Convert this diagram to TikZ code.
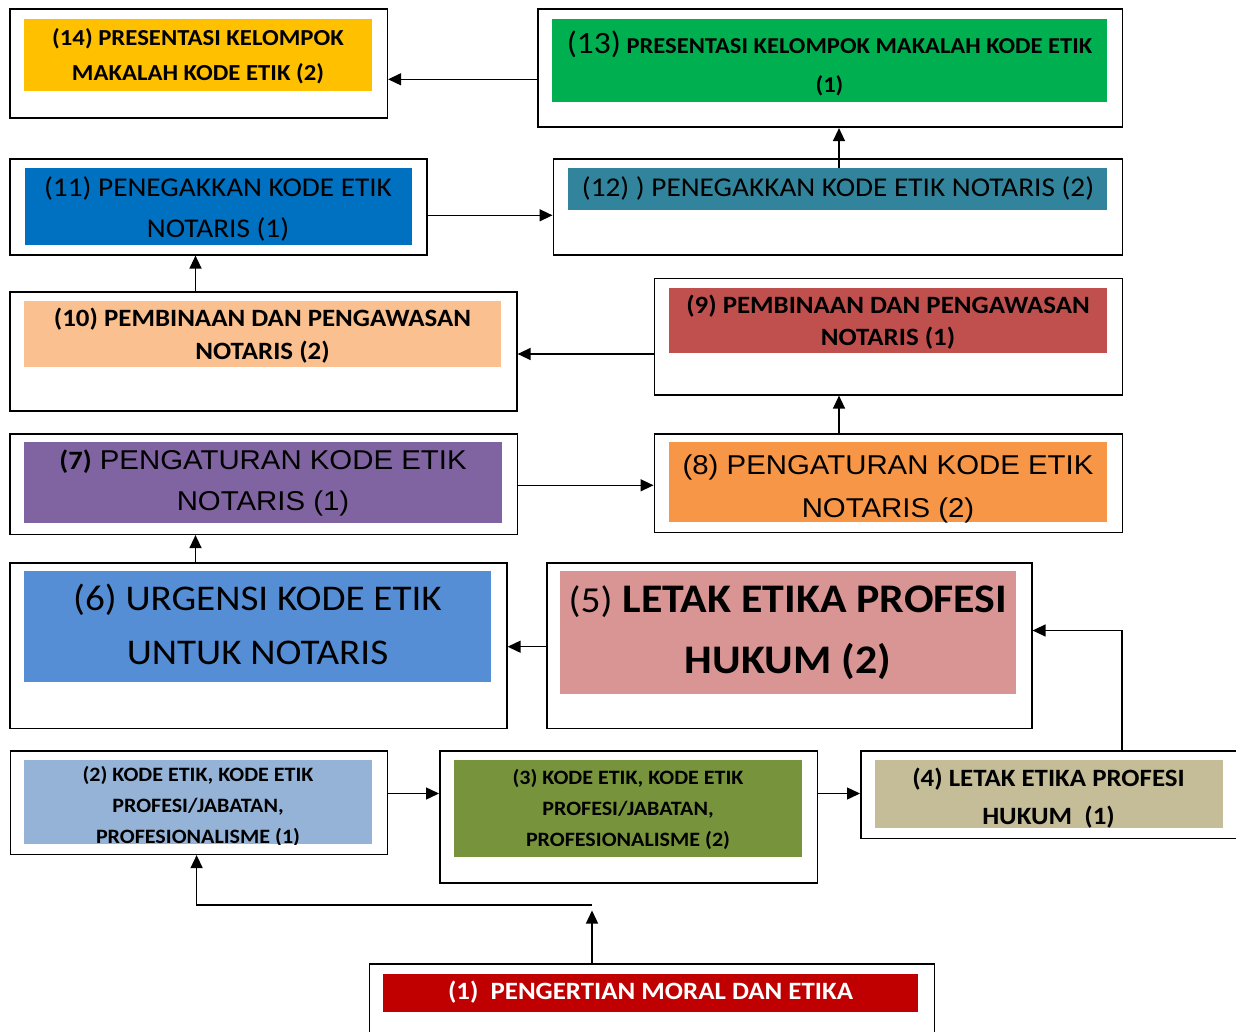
\documentclass[tikz,border=0pt]{standalone}
\usepackage{fontspec}
\setmainfont{Carlito}[FakeStretch=1.08]
\newfontfamily\arialf{Liberation Sans}[FakeStretch=1.08]
\usetikzlibrary{arrows.meta}
\definecolor{c14}{HTML}{FFC000}
\definecolor{c13}{HTML}{00B050}
\definecolor{c11}{HTML}{0070C0}
\definecolor{c12}{HTML}{31849B}
\definecolor{c10}{HTML}{FAC090}
\definecolor{c9}{HTML}{C0504D}
\definecolor{c7}{HTML}{8064A2}
\definecolor{c8}{HTML}{F79646}
\definecolor{c6}{HTML}{558ED5}
\definecolor{c5}{HTML}{D99594}
\definecolor{c2}{HTML}{95B3D7}
\definecolor{c3}{HTML}{77933C}
\definecolor{c4}{HTML}{C4BD97}
\definecolor{c1}{HTML}{C00000}
\newcommand\fsz[2]{\fontsize{#1pt}{#2pt}\selectfont}
\tikzset{
  obox/.style={draw=black, line width=1.6pt, fill=white, inner sep=0pt, anchor=north west},
  fbox/.style={fill=#1, draw=none, inner sep=0pt, anchor=north west},
  arr/.style={line width=1.4pt, -{Triangle[length=13pt,width=12pt]}},
  txt/.style={align=center, inner sep=0pt, anchor=center, text=black},
}
\begin{document}
\begin{tikzpicture}[x=1pt,y=-1pt]
\useasboundingbox (0,0) rectangle (1236,1032);
\fill[white] (0,0) rectangle (1236,1032);

% outer boxes
\node[obox, minimum width=377.5pt, minimum height=108.5pt] (b14) at (9,8.5) {};
\node[obox, minimum width=584.5pt, minimum height=118pt] (b13) at (537,8.5) {};
\node[obox, minimum width=417pt, minimum height=96pt] (b11) at (9,158) {};
\node[obox, minimum width=569pt, minimum height=96.5pt] (b12) at (552.5,158) {};
\node[obox, minimum width=507pt, minimum height=119pt] (b10) at (9,291) {};
\node[obox, minimum width=468pt, minimum height=116.5pt] (b9) at (653.5,277.5) {};
\node[obox, minimum width=507.5pt, minimum height=100.5pt] (b7) at (9,433) {};
\node[obox, minimum width=468pt, minimum height=98.5pt] (b8) at (653.5,433) {};
\node[obox, minimum width=497pt, minimum height=165.5pt] (b6) at (9,562) {};
\node[obox, minimum width=485pt, minimum height=165.5pt] (b5) at (546,562) {};
\node[obox, minimum width=377pt, minimum height=103.5pt] (b2) at (9.5,750) {};
\node[obox, minimum width=377.5pt, minimum height=132pt] (b3) at (439,750) {};
\node[obox, minimum width=400pt, minimum height=87.5pt] (b4) at (860,750) {};
\node[obox, minimum width=565pt, minimum height=100pt] (b1) at (368.5,963) {};

% coloured fills
\node[fbox=c14, minimum width=348pt, minimum height=72pt] (f14) at (24,19) {};
\node[fbox=c13, minimum width=555pt, minimum height=82.5pt] (f13) at (552,19) {};
\node[fbox=c11, minimum width=387.5pt, minimum height=76.5pt] (f11) at (24.5,168) {};
\node[fbox=c12, minimum width=539pt, minimum height=41.5pt] (f12) at (568,168) {};
\node[fbox=c10, minimum width=477pt, minimum height=65.5pt] (f10) at (24,301) {};
\node[fbox=c9, minimum width=438pt, minimum height=64.5pt] (f9) at (669,288) {};
\node[fbox=c7, minimum width=478pt, minimum height=80.5pt] (f7) at (24,442) {};
\node[fbox=c8, minimum width=438pt, minimum height=79.5pt] (f8) at (669,442) {};
\node[fbox=c6, minimum width=467pt, minimum height=110.5pt] (f6) at (24,571) {};
\node[fbox=c5, minimum width=456pt, minimum height=123pt] (f5) at (560,571) {};
\node[fbox=c2, minimum width=348pt, minimum height=84pt] (f2) at (24,760) {};
\node[fbox=c3, minimum width=348pt, minimum height=96.5pt] (f3) at (454,760) {};
\node[fbox=c4, minimum width=347.5pt, minimum height=67.5pt] (f4) at (875,760) {};
\node[fbox=c1, minimum width=535pt, minimum height=37.5pt] (f1) at (383,974) {};

% texts
\node[txt, font={\fsz{22.9}{34.5}\bfseries}] (t14) at (198,56) {(14) PRESENTASI KELOMPOK\\MAKALAH KODE ETIK (2)};
\node[txt, font={\fsz{22.7}{39}\bfseries}] (t13) at (829.5,63) {{\fontsize{31pt}{39pt}\selectfont\mdseries (13)} PRESENTASI KELOMPOK MAKALAH KODE ETIK\\(1)};
\node[txt, font={\fsz{27.1}{40.8}}] (t11) at (218,209) {(11) PENEGAKKAN KODE ETIK\\NOTARIS (1)};
\node[txt, font={\fsz{27.1}{34}}] (t12) at (838,188.5) {(12) ) PENEGAKKAN KODE ETIK NOTARIS (2)};
\node[txt, font={\fsz{24.9}{32.5}\bfseries}] (t10) at (262.5,335.5) {(10) PEMBINAAN DAN PENGAWASAN\\NOTARIS (2)};
\node[txt, font={\fsz{24.9}{32}\bfseries}] (t9) at (888,322.4) {(9) PEMBINAAN DAN PENGAWASAN\\NOTARIS (1)};
\node[txt, font={\arialf\fsz{27.2}{40.5}}] (t7) at (263,483) {{\normalfont\fontsize{26.5pt}{40.5pt}\selectfont\bfseries (7)} PENGATURAN KODE ETIK\\NOTARIS (1)};
\node[txt, font={\arialf\fsz{27.2}{43}}] (t8) at (888,488.7) {(8) PENGATURAN KODE ETIK\\NOTARIS (2)};
\node[txt, font={\fsz{36.2}{54}}] (t6) at (257.5,624.4) {(6) URGENSI KODE ETIK\\UNTUK NOTARIS};
\node[txt, font={\fsz{40.6}{61}\bfseries}] (t5) at (788,633) {{\fontsize{36.6pt}{61pt}\selectfont\mdseries (5)} LETAK ETIKA PROFESI\\HUKUM (2)};
\begin{scope}
\clip (f2.north west) rectangle (f2.south east);
\node[txt, font={\fsz{20.4}{31}\bfseries}] (t2) at (198,806.5) {(2) KODE ETIK, KODE ETIK\\PROFESI/JABATAN,\\PROFESIONALISME (1)};
\end{scope}
\node[txt, font={\fsz{20.4}{31}\bfseries}] (t3) at (628,809) {(3) KODE ETIK, KODE ETIK\\PROFESI/JABATAN,\\PROFESIONALISME (2)};
\node[txt, font={\fsz{24.9}{37.6}\bfseries}] (t4) at (1048.5,798) {(4) LETAK ETIKA PROFESI\\HUKUM\ \ (1)};
\node[txt, text=white, font={\fsz{24.9}{30}\bfseries}] (t1) at (650.5,992.5) {(1)\ \ PENGERTIAN MORAL DAN ETIKA};

% helper coordinates
\coordinate (y79) at (0,79.3);
\coordinate (y215) at (0,215.3);
\coordinate (x839) at (839,0);
\coordinate (x195) at (195.5,0);
\coordinate (y354) at (0,354);
\coordinate (y485) at (0,485.3);
\coordinate (y647) at (0,646.7);
\coordinate (x1122) at (1122,0);
\coordinate (y630) at (0,630.5);
\coordinate (y793) at (0,793.5);
\coordinate (j1) at (592,905);
\coordinate (tip1) at (592,910.5);
\coordinate (x197) at (196.6,0);

% connectors
\draw[arr] (b13.west |- y79) -- (b14.east |- y79);
\draw[arr] (b11.east |- y215) -- (b12.west |- y215);
\draw[arr] (f12.north -| x839) -- (b13.south -| x839);
\draw[arr] (b10.north -| x195) -- (b11.south -| x195);
\draw[arr] (b9.west |- y354) -- (b10.east |- y354);
\draw[arr] (b7.east |- y485) -- (b8.west |- y485);
\draw[arr] (b8.north -| x839) -- (b9.south -| x839);
\draw[arr] (b6.north -| x195) -- (b7.south -| x195);
\draw[arr] (b5.west |- y647) -- (b6.east |- y647);
\draw[arr] (b4.north -| x1122) |- (b5.east |- y630);
\draw[arr] (b3.east |- y793) -- (b4.west |- y793);
\draw[arr] (b2.east |- y793) -- (b3.west |- y793);
\draw[arr] (b1.north -| j1) -- (tip1);
\draw[arr] (j1) -| (b2.south -| x197);
\end{tikzpicture}
\end{document}
